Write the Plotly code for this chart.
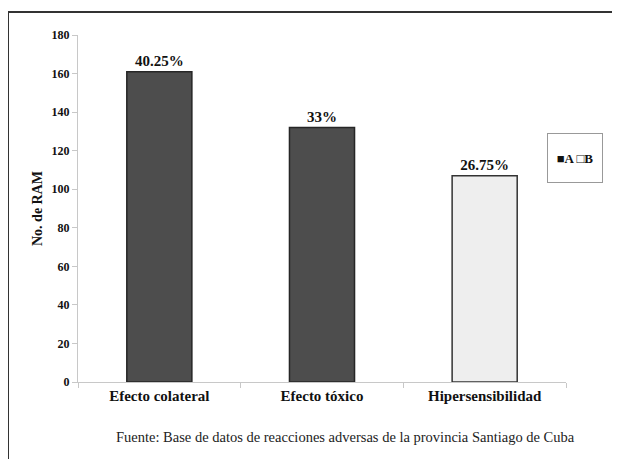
import plotly.graph_objects as go

categories = ["Efecto colateral", "Efecto tóxico", "Hipersensibilidad"]
series_a = [161, 132, None]
series_b = [None, None, 107]
pct_labels = ["40.25%", "33%", "26.75%"]
y_ticks = [0, 20, 40, 60, 80, 100, 120, 140, 160, 180]

FONT = "Liberation Serif, Times New Roman, serif"

# page body has an 8px margin; figure coordinates are page coordinates - 8
L, T, PW, PH = 70, 27, 488, 347

fig = go.Figure()
fig.add_trace(go.Bar(
    x=categories, y=series_a, name="A",
    marker=dict(color="#4d4d4d", line=dict(color="#262626", width=1.5)),
    text=[pct_labels[0], pct_labels[1], None], textposition="outside",
    textfont=dict(family=FONT, size=15, color="#111"), cliponaxis=False,
))
fig.add_trace(go.Bar(
    x=categories, y=series_b, name="B",
    marker=dict(color="#eeeeee", line=dict(color="#333333", width=1.5)),
    text=[None, None, pct_labels[2]], textposition="outside",
    textfont=dict(family=FONT, size=15, color="#111"), cliponaxis=False,
))

fig.update_layout(
    width=620, height=459,
    margin=dict(l=L, r=620 - L - PW, t=T, b=459 - T - PH, autoexpand=False),
    paper_bgcolor="white", plot_bgcolor="white",
    barmode="overlay", bargap=0.6,
    font=dict(family=FONT, color="#111"),
    showlegend=False,
)
fig.update_traces(texttemplate="<b>%{text}</b>")
fig.update_xaxes(
    showline=True, linecolor="#c8c8c8", linewidth=1,
    ticks="outside", tickson="boundaries", ticklen=5, tickcolor="#c8c8c8",
    tickfont=dict(family=FONT, size=15, color="#111"),
    ticktext=["<b>" + c + "</b>" for c in categories], tickvals=categories,
    showgrid=False,
)
fig.update_yaxes(
    range=[0, 180], tickvals=y_ticks,
    ticktext=["<b>%d</b>" % v for v in y_ticks],
    showline=True, linecolor="#c8c8c8", linewidth=1,
    ticks="outside", ticklen=5, tickcolor="#c8c8c8",
    tickfont=dict(family=FONT, size=12, color="#111"),
    showgrid=False, zeroline=False,
    title=dict(text="<b>No. de RAM</b>", font=dict(family=FONT, size=14, color="#111"), standoff=5),
)

def px(x):
    return (x - L) / PW

def py(y):
    return (T + PH - y) / PH

# outer frame (left and top edges)
fig.add_shape(type="line", xref="paper", yref="paper",
              x0=px(0), x1=px(0), y0=py(4), y1=py(460),
              line=dict(color="#333333", width=2))
fig.add_shape(type="line", xref="paper", yref="paper",
              x0=px(0), x1=px(630), y0=py(4), y1=py(4),
              line=dict(color="#333333", width=2))

# legend box
fig.add_annotation(
    text="<b>■A □B</b>", xref="paper", yref="paper",
    x=px(567), y=py(150), xanchor="center", yanchor="middle",
    showarrow=False, width=52, height=46, bordercolor="#999999", borderwidth=1,
    bgcolor="white", font=dict(family=FONT, size=13, color="#111"),
)

fig.add_annotation(
    text="Fuente: Base de datos de reacciones adversas de la provincia Santiago de Cuba",
    xref="paper", yref="paper", x=px(337), y=py(429),
    xanchor="center", yanchor="middle", showarrow=False,
    font=dict(family=FONT, size=14.5, color="#222"),
)

fig.write_html("out.html")
